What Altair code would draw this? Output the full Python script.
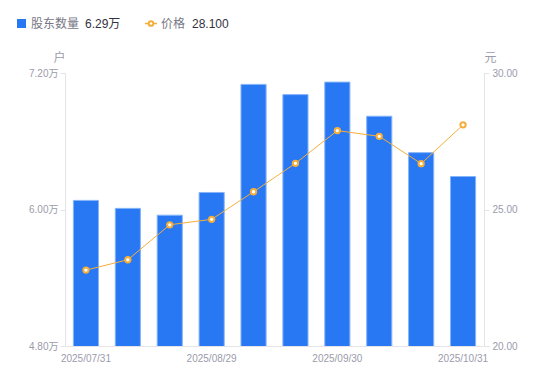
import altair as alt
import pandas as pd

dates = ["2025/07/31", "2025/08/08", "2025/08/20", "2025/08/29", "2025/09/05",
         "2025/09/19", "2025/09/30", "2025/10/10", "2025/10/20", "2025/10/31"]
holders = [6.08, 6.01, 5.95, 6.15, 7.10, 7.01, 7.12, 6.82, 6.50, 6.29]  # 万户
price = [22.78, 23.16, 24.44, 24.64, 25.65, 26.69, 27.89, 27.68, 26.68, 28.10]
x_labels = ["2025/07/31", "2025/08/29", "2025/09/30", "2025/10/31"]
left_ticks = [4.80, 6.00, 7.20]
right_ticks = [20.0, 25.0, 30.0]

BLUE = "#2878F4"
ORANGE = "#F6AE3A"
GRAY = "#9b9bab"
AXIS = "#e3e3e8"
FONT = "Liberation Sans, Noto Sans CJK SC"
AX_FS = 10

df = pd.DataFrame({"date": dates, "holders": holders, "price": price})

x = alt.X("date:N", sort=dates, title=None,
          scale=alt.Scale(paddingInner=0.4, paddingOuter=0.2),
          axis=alt.Axis(values=x_labels, labelAngle=0, ticks=False, domainColor=AXIS,
                        labelColor=GRAY, labelFontSize=AX_FS, labelPadding=7, labelFont=FONT))

bars = alt.Chart(df).mark_bar(color=BLUE, stroke="#86b4f9", strokeWidth=1, clip=True).encode(
    x=x,
    y=alt.Y("holders:Q", scale=alt.Scale(domain=[4.8, 7.2], nice=False, zero=False),
            axis=alt.Axis(values=left_ticks, labelExpr="format(datum.value, '.2f') + '万'",
                          grid=False, tickSize=5, tickColor=AXIS, domainColor=AXIS,
                          labelColor=GRAY, labelFontSize=AX_FS, labelPadding=2, labelFont=FONT,
                          title="户", titleAngle=0, titleX=-6, titleY=-16, titleAlign="center",
                          titleBaseline="middle", titleColor=GRAY, titleFontWeight="normal",
                          titleFontSize=12, titleFont=FONT)),
)

yprice = alt.Y("price:Q", scale=alt.Scale(domain=[20, 30], nice=False, zero=False),
               axis=alt.Axis(orient="right", values=right_ticks, format=".2f",
                             grid=False, tickSize=5, tickColor=AXIS, domainColor=AXIS,
                             labelColor=GRAY, labelFontSize=AX_FS, labelPadding=3, labelFont=FONT,
                             title="元", titleAngle=0, titleX=6, titleY=-16, titleAlign="center",
                             titleBaseline="middle", titleColor=GRAY, titleFontWeight="normal",
                             titleFontSize=12, titleFont=FONT))

line = alt.Chart(df).mark_line(color=ORANGE, strokeWidth=1).encode(x=x, y=yprice)
pts = alt.Chart(df).mark_point(filled=True, fill="white", stroke=ORANGE, strokeWidth=2,
                               size=28, opacity=1).encode(x=x, y=yprice)

# custom legend
leg = pd.DataFrame({"k": [0]})
LY = -49.5
sq = alt.Chart(leg).mark_square(color=BLUE, size=81, opacity=1).encode(
    x=alt.value(-43.5), y=alt.value(LY))
t1 = alt.Chart(leg).mark_text(text="股东数量", align="left", baseline="middle", fontSize=12,
                              color="#777785", font=FONT).encode(x=alt.value(-34), y=alt.value(LY))
t2 = alt.Chart(leg).mark_text(text=f"{holders[-1]:.2f}万", align="left", baseline="middle",
                              fontSize=12, color="#333340", font=FONT).encode(
    x=alt.value(20), y=alt.value(LY))
lg = alt.Chart(leg).mark_rule(color=ORANGE, strokeWidth=1.5).encode(
    x=alt.value(80), x2=alt.value(92), y=alt.value(LY))
lp = alt.Chart(leg).mark_point(filled=True, fill="white", stroke=ORANGE, strokeWidth=2,
                               size=22, opacity=1).encode(x=alt.value(86), y=alt.value(LY))
t3 = alt.Chart(leg).mark_text(text="价格", align="left", baseline="middle", fontSize=12,
                              color="#777785", font=FONT).encode(x=alt.value(96), y=alt.value(LY))
t4 = alt.Chart(leg).mark_text(text=f"{price[-1]:.3f}", align="left", baseline="middle",
                              fontSize=12, color="#333340", font=FONT).encode(
    x=alt.value(127), y=alt.value(LY))

main = alt.layer(bars, alt.layer(line, pts)).resolve_scale(y="independent")
chart = alt.layer(main, sq, t1, t2, lg, lp, t3, t4).properties(
    width=419, height=273,
    autosize=alt.AutoSizeParams(type="none"),
    padding={"left": 57, "top": 65, "right": 58, "bottom": 27},
).configure_view(stroke=None)

chart.save("out.html", embed_options={"renderer": "svg", "actions": False})
